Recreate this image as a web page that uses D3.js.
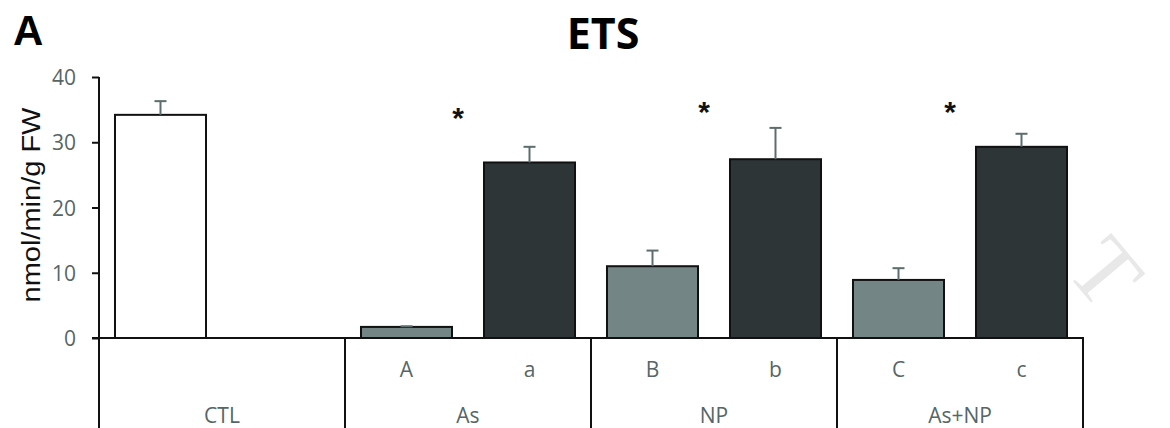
<!DOCTYPE html>
<meta charset="utf-8">
<script src="https://cdn.jsdelivr.net/npm/d3@7"></script>
<style>
  body { margin: 0; background: #fff; }
  .tick text { font-family: "Open Sans", sans-serif; font-size: 21px; fill: #566666; }
</style>
<body>
<script>

// chart values
var groups = ["CTL", "As", "NP", "As+NP"]
var slots = ["CTL-1", "CTL-2", "As-A", "As-a", "NP-B", "NP-b", "As+NP-C", "As+NP-c"]
var subLabels = ["", "", "A", "a", "B", "b", "C", "c"]
var kinds = ["ctl", "", "light", "dark", "light", "dark", "light", "dark"]
var means = [34.2, null, 1.7, 26.9, 11.0, 27.4, 8.9, 29.3]
var errors = [2.1, null, 0.1, 2.4, 2.4, 4.8, 1.8, 2.0]
var starGroups = ["As", "NP", "As+NP"]
var starHeights = [34.9, 35.9, 35.9]
var yTicks = [0, 10, 20, 30, 40]

var width = 1170
var height = 428

var svg = d3.select("body").append("svg")
            .attr("width", width)
            .attr("height", height)

var y = d3.scaleLinear().domain([0, 40]).range([338, 77])
var x = d3.scaleBand().domain(slots).range([99, 1083]).paddingInner(0.26).paddingOuter(0.13)
var gx = d3.scaleBand().domain(groups).range([99, 1083])

var fills = { ctl: "#ffffff", light: "#738585", dark: "#2e3537" }

// watermark fragment
svg.append("text")
   .attr("transform", "translate(1082,292) rotate(50)")
   .attr("text-anchor", "middle")
   .style("font-family", "Liberation Serif, serif")
   .style("font-size", "92px")
   .style("fill", "#e8e8e8")
   .text("T")

// title and panel letter
svg.append("text")
   .attr("x", 13).attr("y", 45)
   .style("font-family", "Liberation Sans, Arial, sans-serif")
   .style("font-weight", "bold").style("font-size", "42px")
   .text("A")

svg.append("text")
   .attr("x", 603).attr("y", 49)
   .attr("text-anchor", "middle")
   .style("font-family", "Open Sans, sans-serif")
   .style("font-weight", "bold").style("font-size", "43px")
   .text("ETS")

// y axis label
svg.append("text")
   .attr("transform", "translate(40," + 205 + ") rotate(-90)")
   .attr("text-anchor", "middle")
   .attr("textLength", 195)
   .attr("lengthAdjust", "spacingAndGlyphs")
   .style("font-family", "Liberation Sans, Arial, sans-serif")
   .style("font-size", "25px")
   .style("fill", "#111")
   .text("nmol/min/g FW")

// y axis
var yAxis = svg.append("g")
    .attr("transform", "translate(99,0)")
    .call(d3.axisLeft(y).tickValues(yTicks).tickSizeInner(7).tickSizeOuter(0).tickPadding(16))
yAxis.select(".domain").remove()
yAxis.selectAll(".tick line").attr("stroke", "#111").attr("stroke-width", 2)
yAxis.selectAll(".tick text").attr("dy", "0.36em")

// bars
var rows = slots.map(function(s, i) {
  return { slot: s, mean: means[i], err: errors[i], kind: kinds[i] }
}).filter(function(d) { return d.mean !== null })

svg.append("g").selectAll("rect")
   .data(rows).enter().append("rect")
   .attr("x", function(d) { return x(d.slot) })
   .attr("width", x.bandwidth())
   .attr("y", function(d) { return y(d.mean) })
   .attr("height", function(d) { return y(0) - y(d.mean) })
   .attr("fill", function(d) { return fills[d.kind] })
   .attr("stroke", "#111")
   .attr("stroke-width", 2)

// error bars
var eb = svg.append("g").attr("stroke", "#5d6d6d").attr("stroke-width", 2)
eb.selectAll("line.v").data(rows).enter().append("line")
  .attr("x1", function(d) { return x(d.slot) + x.bandwidth() / 2 })
  .attr("x2", function(d) { return x(d.slot) + x.bandwidth() / 2 })
  .attr("y1", function(d) { return y(d.mean) })
  .attr("y2", function(d) { return y(d.mean + d.err) })
eb.selectAll("line.cap").data(rows).enter().append("line")
  .attr("x1", function(d) { return x(d.slot) + x.bandwidth() / 2 - 6 })
  .attr("x2", function(d) { return x(d.slot) + x.bandwidth() / 2 + 6 })
  .attr("y1", function(d) { return y(d.mean + d.err) })
  .attr("y2", function(d) { return y(d.mean + d.err) })

// y axis line
svg.append("line")
   .attr("x1", 99).attr("x2", 99)
   .attr("y1", y(40)).attr("y2", height + 2)
   .attr("stroke", "#111").attr("stroke-width", 2)

// category box
svg.append("line")
   .attr("x1", 92).attr("x2", gx.range()[1] + 1)
   .attr("y1", y(0)).attr("y2", y(0))
   .attr("stroke", "#111").attr("stroke-width", 2)

svg.append("g").selectAll("line")
   .data(groups).enter().append("line")
   .attr("x1", function(d) { return gx(d) + gx.bandwidth() })
   .attr("x2", function(d) { return gx(d) + gx.bandwidth() })
   .attr("y1", y(0)).attr("y2", height + 2)
   .attr("stroke", "#111").attr("stroke-width", 2)

svg.append("g").selectAll("text")
   .data(slots).enter().append("text")
   .attr("x", function(d) { return x(d) + x.bandwidth() / 2 })
   .attr("y", 377)
   .attr("text-anchor", "middle")
   .style("font-family", "Open Sans, sans-serif")
   .style("font-size", "21px")
   .style("fill", "#566666")
   .text(function(d, i) { return subLabels[i] })

svg.append("g").selectAll("text")
   .data(groups).enter().append("text")
   .attr("x", function(d) { return gx(d) + gx.bandwidth() / 2 })
   .attr("y", 423)
   .attr("text-anchor", "middle")
   .style("font-family", "Open Sans, sans-serif")
   .style("font-size", "21px")
   .style("fill", "#566666")
   .text(function(d) { return d })

// significance stars
svg.append("g").selectAll("text")
   .data(starGroups).enter().append("text")
   .attr("x", function(d) { return gx(d) + gx.bandwidth() / 2 - 10 })
   .attr("y", function(d, i) { return y(starHeights[i]) + 18 })
   .attr("text-anchor", "middle")
   .style("font-family", "Liberation Sans, Arial, sans-serif")
   .style("font-weight", "bold")
   .style("font-size", "30px")
   .style("fill", "#111")
   .text("*")

</script>
</body>
